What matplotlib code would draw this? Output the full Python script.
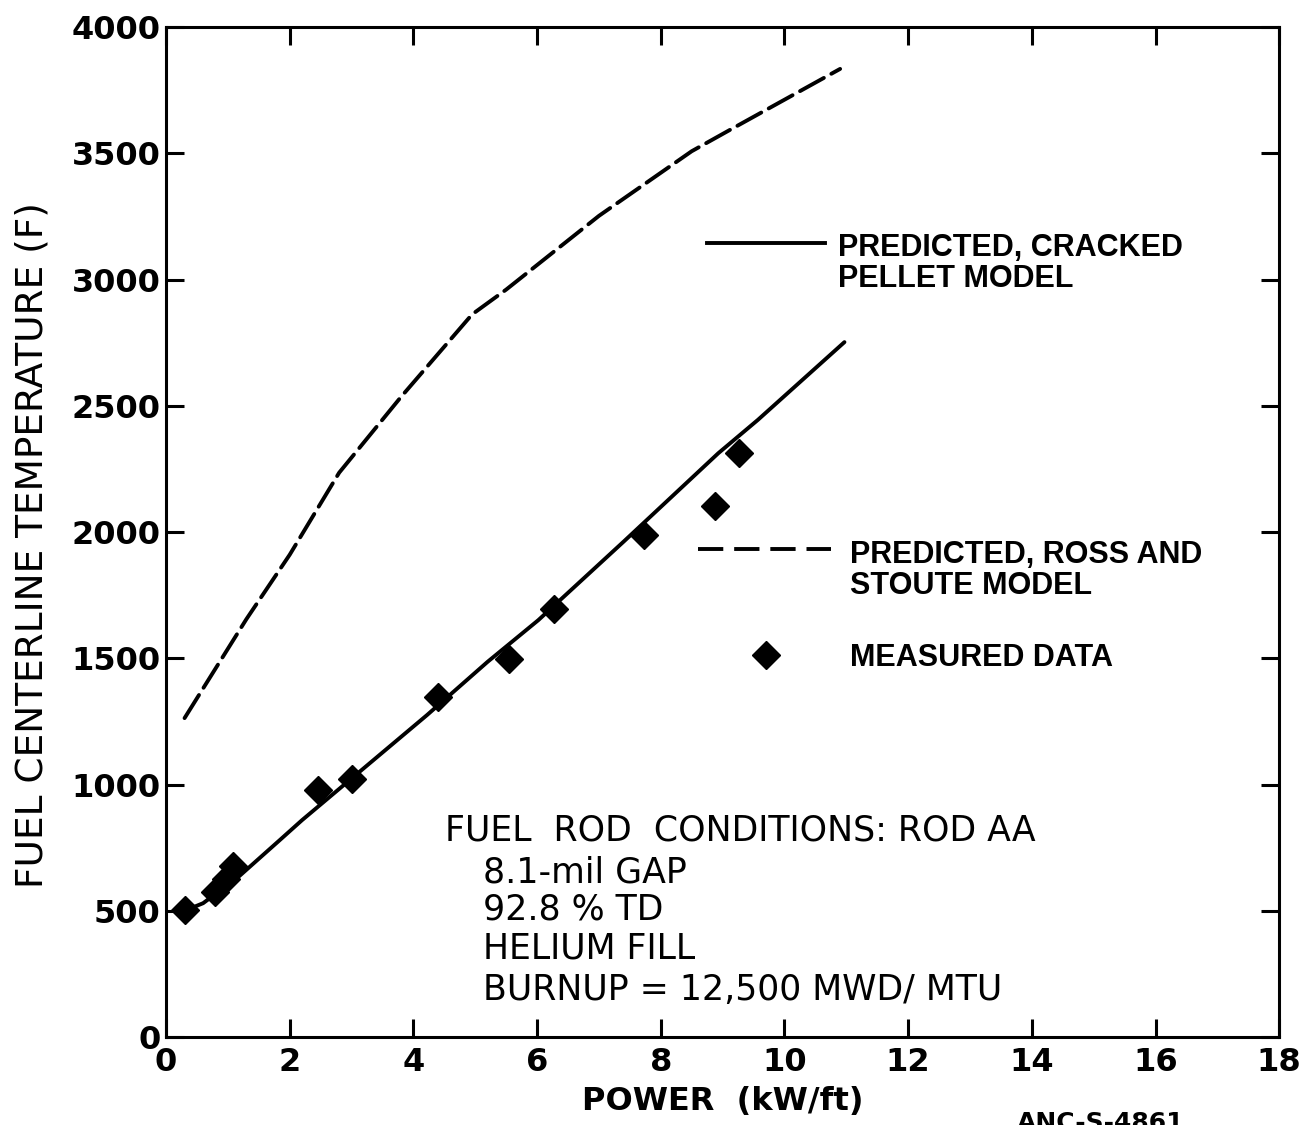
import matplotlib
matplotlib.use("Agg")
import matplotlib.pyplot as plt
from matplotlib.lines import Line2D

# Ross and Stoute model prediction (dashed)
rs_power = [0.3, 1.3, 2.0, 2.8, 3.8, 4.95, 5.5, 7.0, 8.5, 9.1, 10.9]
rs_temp = [1263, 1655, 1910, 2235, 2535, 2862, 2960, 3252, 3508, 3590, 3834]

# cracked pellet model prediction (solid)
cp_power = [0.3, 0.6, 1.17, 1.84, 2.2, 4.22, 5.2, 6.02, 7.4, 8.93, 9.57, 10.97]
cp_temp = [500, 530, 634, 780, 859, 1275, 1486, 1651, 1962, 2312, 2444, 2752]

# measured data (diamonds)
meas_power = [0.30, 0.80, 0.97, 1.09, 2.45, 3.01, 4.40, 5.55, 6.27, 7.73, 8.88, 9.26]
meas_temp = [503, 575, 625, 677, 978, 1021, 1348, 1496, 1695, 1988, 2104, 2312]

x_ticks = [0, 2, 4, 6, 8, 10, 12, 14, 16, 18]
y_ticks = [0, 500, 1000, 1500, 2000, 2500, 3000, 3500, 4000]

conditions = ["8.1-mil GAP", "92.8 % TD", "HELIUM FILL", "BURNUP = 12,500 MWD/ MTU"]

lab_font = ["Liberation Sans", "DejaVu Sans"]

fig = plt.figure(figsize=(13.02, 11.25), dpi=100)
ax = fig.add_axes([0.1275, 0.0782, 0.855, 0.8978])

ax.plot(rs_power, rs_temp, color="black", lw=2.8, linestyle=(0, (7, 2.2)),
        solid_capstyle="round", dash_capstyle="round")
ax.plot(cp_power, cp_temp, color="black", lw=2.8, solid_capstyle="round")
ax.plot(meas_power, meas_temp, linestyle="none", marker="D", ms=14,
        color="black", mec="black")

ax.set_xlim(0, 18)
ax.set_ylim(0, 4000)
ax.set_xticks(x_ticks)
ax.set_yticks(y_ticks)
ax.set_xticklabels([str(v) for v in x_ticks], fontsize=23, fontweight="bold")
ax.set_yticklabels([str(v) for v in y_ticks], fontsize=23, fontweight="bold")
ax.tick_params(direction="in", length=13, width=2.2, top=True, right=True)
ax.tick_params(axis="x", pad=7)
ax.tick_params(axis="y", pad=4)
for sp in ax.spines.values():
    sp.set_linewidth(2.2)

ax.set_xlabel("POWER  (kW/ft)", fontsize=23, fontweight="bold", labelpad=6)
ax.set_ylabel("FUEL CENTERLINE TEMPERATURE (F)", fontsize=27)
ax.yaxis.set_label_coords(-0.104, 0.487)

# legend drawn by hand
ax.add_line(Line2D([0.486, 0.592], [0.786, 0.786], transform=ax.transAxes,
                   color="black", lw=2.8))
ax.text(0.604, 0.766, "PREDICTED, CRACKED\nPELLET MODEL", transform=ax.transAxes,
        fontsize=22, family=lab_font, fontweight="bold", va="center", ha="left",
        linespacing=1.05)
ax.add_line(Line2D([0.478, 0.597], [0.483, 0.483], transform=ax.transAxes,
                   color="black", lw=2.8, linestyle=(0, (6.5, 2.8))))
ax.text(0.614, 0.462, "PREDICTED, ROSS AND\nSTOUTE MODEL", transform=ax.transAxes,
        fontsize=22, family=lab_font, fontweight="bold", va="center", ha="left",
        linespacing=1.05)
ax.add_line(Line2D([0.539], [0.378], transform=ax.transAxes, marker="D",
                   ms=14, color="black", linestyle="none"))
ax.text(0.614, 0.375, "MEASURED DATA", transform=ax.transAxes,
        fontsize=22, family=lab_font, fontweight="bold", va="center", ha="left")

# rod conditions
ax.text(0.251, 0.204, "FUEL  ROD  CONDITIONS: ROD AA", transform=ax.transAxes,
        fontsize=25, va="center", ha="left")
cond_y = [0.163, 0.126, 0.088, 0.047]
for label, yy in zip(conditions, cond_y):
    ax.text(0.285, yy, label, transform=ax.transAxes, fontsize=25,
            va="center", ha="left")

fig.text(0.845, 0.0125, "ANC-S-4861", fontsize=18, fontweight="bold",
         ha="center", va="top")

fig.savefig("out.png", dpi=100)
